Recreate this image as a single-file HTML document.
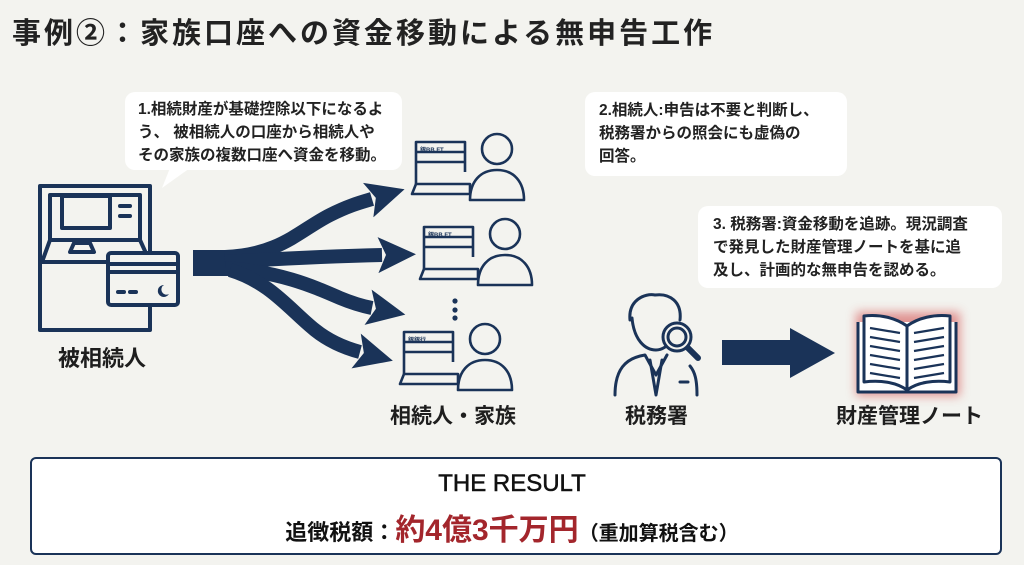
<!DOCTYPE html>
<html><head><meta charset="utf-8"><style>
body{margin:0;width:1024px;height:565px;background:#f3f3ef;position:relative;overflow:hidden;font-family:"Liberation Sans","Noto Sans CJK JP",sans-serif;color:#1e1e1e}
.t{position:absolute;white-space:nowrap}
.b{position:absolute;background:#fff;border-radius:10px;font-weight:bold;font-size:15.5px;line-height:23px;padding:0;color:#222}
</style></head><body>
<div class="t" style="left:12px;top:10px;font-size:29px;font-weight:bold;letter-spacing:3px;color:#222">事例②：家族口座への資金移動による無申告工作</div>

<div class="b" style="left:125px;top:92px;width:277px;height:78px;">
<div style="padding:6px 0 0 13px">1.相続財産が基礎控除以下になるよ<br>う、 被相続人の口座から相続人や<br>その家族の複数口座へ資金を移動。</div></div>
<div class="b" style="left:585px;top:92px;width:262px;height:84px;">
<div style="padding:7px 0 0 14px">2.相続人:申告は不要と判断し、<br>税務署からの照会にも虚偽の<br>回答。</div></div>
<div class="b" style="left:698px;top:206px;width:304px;height:82px;">
<div style="padding:7px 0 0 15px">3. 税務署:資金移動を追跡。現況調査<br>で発見した財産管理ノートを基に追<br>及し、計画的な無申告を認める。</div></div>

<svg width="1024" height="565" style="position:absolute;left:0;top:0">
<defs>
<filter id="g" x="-30%" y="-30%" width="160%" height="160%"><feGaussianBlur stdDeviation="5"/></filter>
<marker id="ah" markerUnits="userSpaceOnUse" markerWidth="40" markerHeight="40" refX="4" refY="18" orient="auto" viewBox="0 0 40 36">
<path d="M0 0 L38 18 L0 36 L8 18 Z" fill="#1a3358"/></marker>
</defs>
<path d="M170 168 L162 188 L190 168 Z" fill="#fff"/>
<g fill="none" stroke="#1a3358" stroke-width="4" stroke-linejoin="round" stroke-linecap="round">
<path d="M40 330 V186 H150 V330 Z"/>
<path d="M50 240 V195 H140 V240"/>
<rect x="62" y="196" width="48" height="32"/>
<line x1="120" y1="206" x2="130" y2="206"/><line x1="120" y1="216" x2="130" y2="216"/>
<path d="M42 262 L50 240 H140 L150 262"/>
<line x1="40" y1="262" x2="107" y2="262"/>
<path d="M70 252 L74 243 H90 L94 252 Z"/>
<rect x="108" y="253" width="70" height="52" rx="3" fill="#f3f3ef"/>
<line x1="108" y1="264" x2="178" y2="264"/><line x1="108" y1="272" x2="178" y2="272"/>
<line x1="118" y1="292" x2="124" y2="292"/><line x1="130" y1="292" x2="136" y2="292"/>
</g>
<path d="M164 285 a6 6 0 1 0 5 9 a5 5 0 0 1 -5 -9z" fill="#1a3358"/>
<!-- fan arrows -->
<rect x="193" y="250" width="40" height="26" fill="#1a3358"/>
<g fill="none" stroke="#1a3358" stroke-width="14">
<path d="M225 257 C280 255 300 230 330 215 C350 205 362 202 372 199" marker-end="url(#ah)"/>
<path d="M225 262 C290 258 340 256 382 255" marker-end="url(#ah)"/>
<path d="M225 268 C280 272 310 285 340 298 C352 303 362 306 372 308" marker-end="url(#ah)"/>
<path d="M230 270 C270 282 290 310 315 330 C330 342 345 348 360 352" marker-end="url(#ah)"/>
</g>
<g fill="#1a3358">
<circle cx="455" cy="301" r="2.6"/><circle cx="455" cy="310" r="2.6"/><circle cx="455" cy="318" r="2.6"/>
</g>
<g fill="none" stroke="#1a3358" stroke-width="2.6" stroke-linejoin="round">
<g transform="translate(410,132)">
<path d="M6 52 V10 H55 V40"/><line x1="6" y1="20" x2="55" y2="20"/><line x1="6" y1="30" x2="55" y2="30"/><path d="M2 62 L6 52 H60 V62 Z"/>
<circle cx="87" cy="17" r="15" fill="#f3f3ef"/><path d="M60 68 C60 50 70 38 87 38 C104 38 114 50 114 68 Z" fill="#f3f3ef"/>
</g>
<g transform="translate(418,217)">
<path d="M6 52 V10 H55 V40"/><line x1="6" y1="20" x2="55" y2="20"/><line x1="6" y1="30" x2="55" y2="30"/><path d="M2 62 L6 52 H60 V62 Z"/>
<circle cx="87" cy="17" r="15" fill="#f3f3ef"/><path d="M60 68 C60 50 70 38 87 38 C104 38 114 50 114 68 Z" fill="#f3f3ef"/>
</g>
<g transform="translate(398,322)">
<path d="M6 52 V10 H55 V40"/><line x1="6" y1="20" x2="55" y2="20"/><line x1="6" y1="30" x2="55" y2="30"/><path d="M2 62 L6 52 H60 V62 Z"/>
<circle cx="87" cy="17" r="15" fill="#f3f3ef"/><path d="M60 68 C60 50 70 38 87 38 C104 38 114 50 114 68 Z" fill="#f3f3ef"/>
</g>
</g>
<g font-size="6" font-weight="bold" fill="#1a3358" font-family="Liberation Sans,Noto Sans CJK JP,sans-serif">
<text x="420" y="152">銀BB FT</text><text x="428" y="237">銀BB FT</text><text x="408" y="342">銀銀行</text>
</g>
<g fill="none" stroke="#1a3358" stroke-width="3" stroke-linecap="round" stroke-linejoin="round">
<path d="M630 320 C628 300 645 293 655 295 C670 293 682 302 680 320"/>
<path d="M632 318 C634 340 645 350 656 350 C662 350 668 346 672 340"/>
<path d="M615 395 C615 370 625 358 645 355 L656 375 L667 355"/>
<path d="M650 360 L656 395 L662 360"/>
<line x1="680" y1="382" x2="688" y2="382"/>
<path d="M697 395 C697 380 695 372 690 366"/>
<circle cx="677" cy="337" r="14" fill="#f3f3ef"/><circle cx="677" cy="337" r="9"/>
<line x1="688" y1="348" x2="698" y2="358" stroke-width="6"/>
</g>
<path d="M722 340 H790 V328 L835 353 L790 378 V365 H722 Z" fill="#1a3358"/>
<rect x="856" y="312" width="104" height="84" fill="#d04545" opacity="0.55" filter="url(#g)"/>
<g fill="#fff" stroke="#1a3358" stroke-width="3" stroke-linejoin="round">
<path d="M858 322 V392 H956 V322"/>
<path d="M864 316 C880 314 896 318 907 326 V390 C896 382 880 380 864 382 Z"/>
<path d="M950 316 C934 314 918 318 907 326 V390 C918 382 934 380 950 382 Z"/>
</g>
<g stroke="#1a3358" stroke-width="2.2">
<line x1="870" y1="328" x2="900" y2="333"/><line x1="870" y1="337" x2="900" y2="342"/><line x1="870" y1="346" x2="900" y2="351"/><line x1="870" y1="355" x2="900" y2="360"/><line x1="870" y1="364" x2="900" y2="369"/><line x1="870" y1="373" x2="900" y2="378"/>
<line x1="914" y1="333" x2="944" y2="328"/><line x1="914" y1="342" x2="944" y2="337"/><line x1="914" y1="351" x2="944" y2="346"/><line x1="914" y1="360" x2="944" y2="355"/><line x1="914" y1="369" x2="944" y2="364"/><line x1="914" y1="378" x2="944" y2="373"/>
</g>
</svg>

<div class="t" style="left:58px;top:341px;font-size:22px;font-weight:bold">被相続人</div>
<div class="t" style="left:390px;top:400px;font-size:21px;font-weight:bold">相続人・家族</div>
<div class="t" style="left:625px;top:400px;font-size:21px;font-weight:bold">税務署</div>
<div class="t" style="left:836px;top:400px;font-size:21px;font-weight:bold">財産管理ノート</div>

<div style="position:absolute;left:30px;top:457px;width:968px;height:94px;background:#fff;border:2px solid #1a3358;border-radius:6px"></div>
<div class="t" style="left:0;width:1024px;text-align:center;top:470px;font-size:24px;color:#111;-webkit-text-stroke:0.5px #111">THE RESULT</div>
<div class="t" style="left:0;width:1024px;text-align:center;top:505px;font-size:22px;font-weight:bold;color:#111">追徴税額：<span style="color:#a3262c;font-size:30px">約4億3千万円</span><span style="font-size:20px">（重加算税含む）</span></div>
</body></html>
